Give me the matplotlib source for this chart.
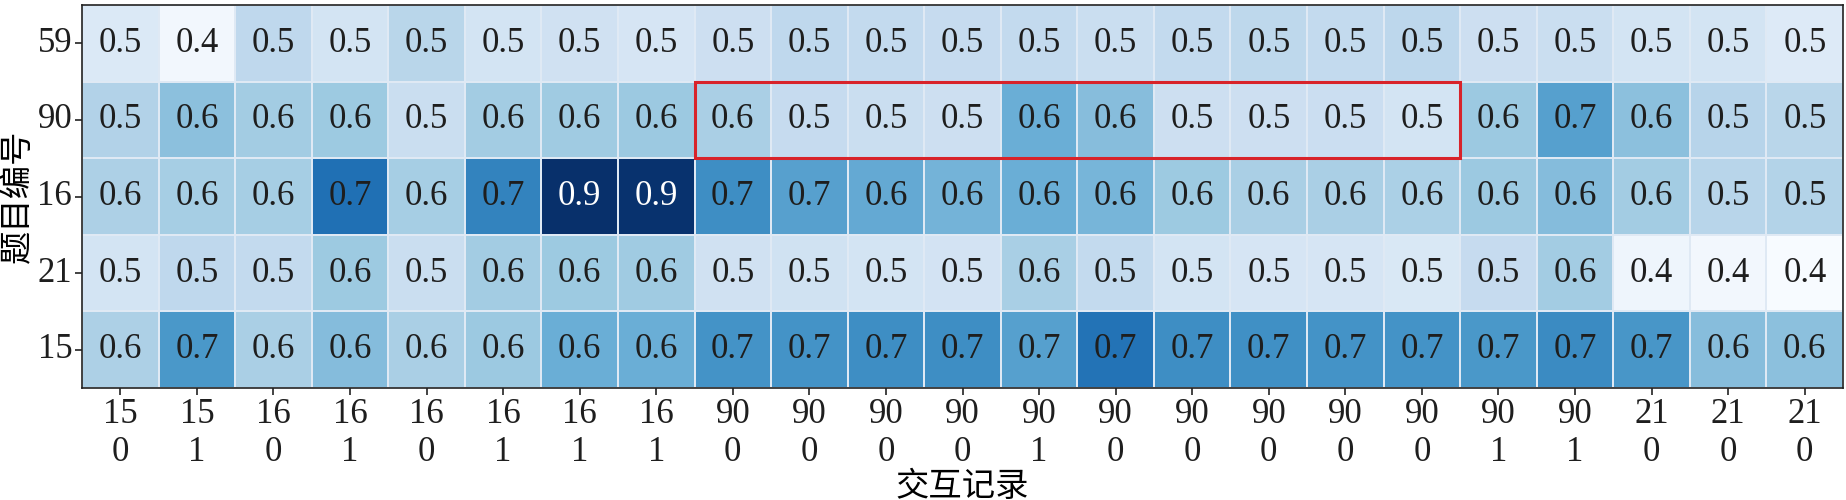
import numpy as np
import pandas as pd
import matplotlib
matplotlib.use("Agg")
import matplotlib.pyplot as plt
import seaborn as sns
from matplotlib.patches import Rectangle

# question ids (rows) and interaction records (columns)
row_labels = ["59", "90", "16", "21", "15"]
col_qid = ["15", "15", "16", "16", "16", "16", "16", "16",
           "90", "90", "90", "90", "90", "90", "90", "90", "90", "90", "90", "90",
           "21", "21", "21"]
col_ans = ["0", "1", "0", "1", "0", "1", "1", "1",
           "0", "0", "0", "0", "1", "0", "0", "0", "0", "0", "1", "1",
           "0", "0", "0"]

row59 = [0.465, 0.414, 0.524, 0.483, 0.533, 0.483, 0.492, 0.478, 0.500, 0.524, 0.520, 0.515,
         0.520, 0.505, 0.520, 0.526, 0.520, 0.528, 0.500, 0.505, 0.483, 0.483, 0.460]
row90 = [0.545, 0.593, 0.566, 0.573, 0.505, 0.566, 0.570, 0.575, 0.556, 0.515, 0.505, 0.500,
         0.630, 0.598, 0.500, 0.500, 0.503, 0.483, 0.575, 0.660, 0.593, 0.538, 0.533]
row16 = [0.552, 0.560, 0.560, 0.745, 0.560, 0.713, 0.860, 0.855, 0.694, 0.658, 0.640, 0.620,
         0.630, 0.616, 0.573, 0.556, 0.556, 0.553, 0.575, 0.600, 0.566, 0.535, 0.543]
row21 = [0.483, 0.524, 0.520, 0.573, 0.506, 0.566, 0.573, 0.570, 0.492, 0.490, 0.483, 0.486,
         0.558, 0.520, 0.483, 0.478, 0.478, 0.470, 0.515, 0.566, 0.423, 0.414, 0.400]
row15 = [0.551, 0.676, 0.556, 0.600, 0.556, 0.575, 0.630, 0.630, 0.685, 0.685, 0.694, 0.694,
         0.660, 0.740, 0.694, 0.690, 0.685, 0.685, 0.676, 0.700, 0.680, 0.598, 0.593]

# highlighted block: row "90", columns 8..17
box_row, box_col0, box_ncols = 1, 8, 10

data = np.array([row59, row90, row16, row21, row15])
xlabels = [f"{a}\n{b}" for a, b in zip(col_qid, col_ans)]
df = pd.DataFrame(data, index=row_labels, columns=range(len(xlabels)))

fig = plt.figure(figsize=(18.46, 5), dpi=100)
ax = fig.add_axes([0.0444, 0.224, 0.954, 0.766])

sns.heatmap(df, cmap="Blues", cbar=False, annot=False, linewidths=0.25,
            linecolor="#dfe9f4", ax=ax)

plt.rcParams['font.family'] = ['Liberation Serif', 'Noto Sans CJK SC']
fam = ['Liberation Serif', 'Noto Sans CJK SC']
fs = 25

for i in range(data.shape[0]):
    for j in range(data.shape[1]):
        v = data[i, j]
        ax.text(j + 0.5, i + 0.5, f"{v:.1f}", ha="center", va="center",
                fontsize=fs, family=fam, color="white" if v > 0.8 else "#1e1e1e")

ax.add_patch(Rectangle((box_col0, box_row), box_ncols, 1, fill=False,
                       edgecolor="#d8232a", linewidth=2.2, zorder=5, clip_on=False))

ax.set_xticks(np.arange(len(xlabels)) + 0.5)
ax.set_xticklabels(xlabels, rotation=0, fontsize=fs, family=fam, linespacing=1.2)
ax.set_yticks(np.arange(len(row_labels)) + 0.5)
ax.set_yticklabels(row_labels, rotation=0, fontsize=fs, family=fam)
ax.tick_params(axis="both", length=5, width=1.2, color="#222222", labelcolor="#1e1e1e", pad=2)

ax.set_xlabel("交互记录", fontsize=24, family=fam, labelpad=2)
ax.set_ylabel("题目编号", fontsize=24, family=fam, labelpad=2)

for s in ax.spines.values():
    s.set_visible(True)
    s.set_color("#222222")
    s.set_linewidth(1.2)

fig.savefig("out.png", dpi=100)
